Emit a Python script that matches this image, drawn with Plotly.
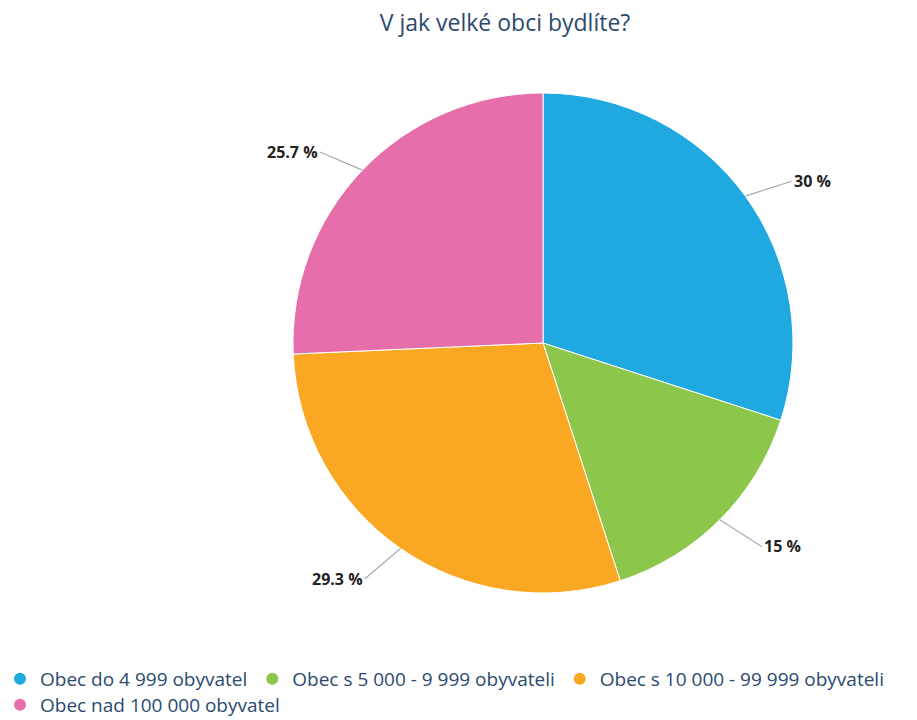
"""Pie chart: V jak velké obci bydlíte?"""

import math
import plotly.graph_objects as go

categories = [
    "Obec do 4 999 obyvatel",
    "Obec s 5 000 - 9 999 obyvateli",
    "Obec s 10 000 - 99 999 obyvateli",
    "Obec nad 100 000 obyvatel",
]
shares = [30, 15, 29.3, 25.7]
share_labels = ["30 %", "15 %", "29.3 %", "25.7 %"]
colors = ["#20a8e0", "#8cc64b", "#faa823", "#e56eab"]
legend_rows = ["legend", "legend", "legend", "legend2"]

W, H = 917, 720
M_T, M_B = 93, 127
PIE_L, PIE_R = 293, 793
plot_h = H - M_T - M_B
radius = (PIE_R - PIE_L) / 2
cx = (PIE_L + PIE_R) / 2

fig = go.Figure()
fig.add_trace(go.Pie(
    labels=categories,
    values=shares,
    sort=False,
    direction="clockwise",
    rotation=0,
    marker=dict(colors=colors, line=dict(color="white", width=1)),
    textinfo="none",
    hoverinfo="label+percent",
    showlegend=False,
    domain=dict(x=[PIE_L / W, PIE_R / W], y=[0, 1]),
))

# legend entries with round markers (two rows, like the original)
for name, col, lg in zip(categories, colors, legend_rows):
    fig.add_trace(go.Scatter(
        x=[None], y=[None], mode="markers", name=name, legend=lg,
        marker=dict(color=col, size=14, symbol="circle"),
    ))

# outside labels with leader lines, placed from slice mid angles
total = sum(shares)
cum = 0
annotations = []
for val, txt in zip(shares, share_labels):
    theta = 2 * math.pi * (cum + val / 2) / total
    cum += val
    s, c = math.sin(theta), math.cos(theta)
    side = 1 if s >= 0 else -1
    annotations.append(dict(
        x=(cx + radius * s) / W,
        y=(plot_h / 2 + radius * c) / plot_h,
        xref="paper", yref="paper",
        text=txt,
        showarrow=True, arrowhead=0, arrowwidth=1.2, arrowcolor="#aaaaaa",
        ax=45 * s + side * 10, ay=-32 * c + 4,
        xanchor="left" if side > 0 else "right",
        font=dict(size=16, color="#222222", family="Open Sans", weight="bold"),
    ))

legend_style = dict(
    orientation="h",
    x=0.0, xanchor="left",
    yref="container", yanchor="top",
    font=dict(size=19, color="#2b4a6e"),
    itemsizing="constant",
    bgcolor="rgba(0,0,0,0)",
)

fig.update_layout(
    width=W, height=H,
    title=dict(
        text="V jak velké obci bydlíte?",
        x=505 / W, xanchor="center", y=0.98,
        font=dict(size=23, color="#2b4a6e", family="Open Sans"),
    ),
    font=dict(family="Open Sans", color="#34495e"),
    margin=dict(l=0, r=0, t=M_T, b=M_B, autoexpand=False),
    xaxis=dict(visible=False),
    yaxis=dict(visible=False),
    plot_bgcolor="white",
    paper_bgcolor="white",
    annotations=annotations,
    legend=dict(legend_style, y=1 - 660 / H),
    legend2=dict(legend_style, y=1 - 686 / H),
)

fig.write_html(
    "out.html",
    config={"displayModeBar": False},
    post_script="document.body.style.margin='0';",
)
